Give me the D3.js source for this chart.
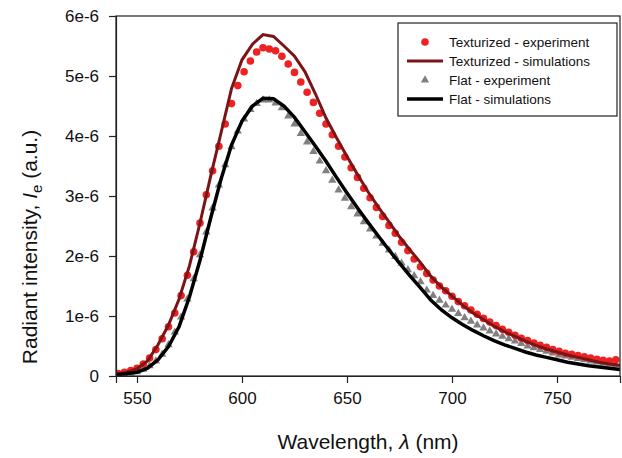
<!DOCTYPE html>
<html>
<head>
<meta charset="utf-8">
<script src="https://cdn.jsdelivr.net/npm/d3@7"></script>
<style>
  body { margin: 0; background: #fff; }
  text { font-family: "Liberation Sans", Arial, sans-serif; fill: #111; }
</style>
</head>
<body>
<div id="chart"></div>
<script>
// values in units of 1e-6 (a.u.)
var simWavelength = [540,545,550,555,560,565,570,575,580,585,590,595,600,605,610,615,620,625,630,635,640,645,650,655,660,665,670,675,680,685,690,695,700,705,710,715,720,725,730,735,740,745,750,755,760,765,770,775,780];
var texturizedSim = [0.03,0.06,0.12,0.25,0.52,0.85,1.28,1.84,2.55,3.32,4.05,4.79,5.27,5.53,5.69,5.66,5.50,5.33,5.07,4.70,4.30,3.97,3.66,3.36,3.07,2.81,2.57,2.32,2.10,1.89,1.66,1.48,1.33,1.18,1.05,0.94,0.83,0.74,0.66,0.58,0.51,0.45,0.40,0.35,0.31,0.27,0.23,0.20,0.18];
var flatSim = [0.02,0.04,0.06,0.13,0.27,0.49,0.82,1.32,1.93,2.62,3.28,3.85,4.25,4.50,4.63,4.62,4.50,4.31,4.07,3.83,3.58,3.31,3.05,2.80,2.56,2.33,2.10,1.88,1.67,1.47,1.26,1.10,0.97,0.86,0.76,0.67,0.59,0.52,0.46,0.40,0.35,0.31,0.27,0.23,0.20,0.17,0.15,0.13,0.11];

var expWavelength = [541,544,547,550,553,556,559,562,565,568,571,574,577,580,583,586,589,592,595,598,601,604,607,610,613,616,619,622,625,628,631,634,637,640,643,646,649,652,655,658,661,664,667,670,673,676,679,682,685,688,691,694,697,700,703,706,709,712,715,718,721,724,727,730,733,736,739,742,745,748,751,754,757,760,763,766,769,772,775,778];
var texturizedExp = [0.04,0.06,0.09,0.13,0.20,0.30,0.44,0.62,0.82,1.05,1.34,1.68,2.07,2.55,3.02,3.42,3.83,4.20,4.54,4.84,5.07,5.25,5.40,5.47,5.45,5.42,5.33,5.20,5.06,4.90,4.73,4.56,4.38,4.20,4.02,3.83,3.65,3.47,3.31,3.13,2.97,2.81,2.66,2.51,2.38,2.23,2.09,1.95,1.82,1.71,1.60,1.50,1.42,1.33,1.24,1.17,1.10,1.03,0.96,0.90,0.84,0.78,0.73,0.68,0.63,0.59,0.55,0.51,0.48,0.44,0.41,0.38,0.36,0.34,0.32,0.30,0.28,0.26,0.25,0.27];
var flatExp = [0.02,0.03,0.05,0.07,0.11,0.17,0.25,0.36,0.52,0.73,0.98,1.28,1.62,2.02,2.40,2.80,3.18,3.52,3.82,4.08,4.28,4.44,4.54,4.60,4.60,4.55,4.47,4.33,4.20,4.04,3.90,3.74,3.58,3.42,3.26,3.10,2.96,2.82,2.70,2.57,2.45,2.33,2.21,2.10,1.99,1.88,1.77,1.67,1.57,1.43,1.34,1.26,1.18,1.11,1.04,0.97,0.91,0.85,0.80,0.75,0.70,0.66,0.62,0.58,0.54,0.50,0.47,0.44,0.41,0.38,0.35,0.33,0.31,0.29,0.27,0.25,0.23,0.21,0.20,0.18];

var xTicks = [550,600,650,700,750];
var yTicks = [0,1,2,3,4,5,6];
var legendLabels = ["Texturized - experiment","Texturized - simulations","Flat - experiment","Flat - simulations"];

var width = 622, height = 458;
var margin = {top: 16, right: 2, bottom: 82, left: 116};
var w = width - margin.left - margin.right;
var h = height - margin.top - margin.bottom;

var redDot = "#ee2222", redLine = "#7a1416", grey = "#808080";

var svg = d3.select("#chart").append("svg")
  .attr("width", width)
  .attr("height", height);

var g = svg.append("g")
  .attr("transform", "translate(" + margin.left + "," + margin.top + ")");

var x = d3.scaleLinear().domain([540, 780]).range([0, w]);
var y = d3.scaleLinear().domain([0, 6]).range([h, 0]);

g.append("clipPath").attr("id", "clip")
  .append("rect").attr("width", w).attr("height", h + 1);

var plot = g.append("g").attr("clip-path", "url(#clip)");

var tri = d3.symbol().type(d3.symbolTriangle).size(30);

plot.selectAll(".tri")
  .data(expWavelength.map((d, i) => [d, flatExp[i]]))
  .enter().append("path")
  .attr("class", "tri")
  .attr("d", tri)
  .attr("transform", d => "translate(" + x(d[0]) + "," + y(d[1]) + ")")
  .attr("fill", grey);

plot.selectAll(".dot")
  .data(expWavelength.map((d, i) => [d, texturizedExp[i]]))
  .enter().append("circle")
  .attr("class", "dot")
  .attr("cx", d => x(d[0]))
  .attr("cy", d => y(d[1]))
  .attr("r", 3.8)
  .attr("fill", redDot);

var line = d3.line()
  .x(d => x(d[0]))
  .y(d => y(d[1]));

plot.append("path")
  .datum(simWavelength.map((d, i) => [d, texturizedSim[i]]))
  .attr("d", line)
  .attr("fill", "none")
  .attr("stroke", redLine)
  .attr("stroke-width", 3);

plot.append("path")
  .datum(simWavelength.map((d, i) => [d, flatSim[i]]))
  .attr("d", line)
  .attr("fill", "none")
  .attr("stroke", "#000")
  .attr("stroke-width", 3.5);

// frame
g.append("rect")
  .attr("width", w)
  .attr("height", h)
  .attr("fill", "none")
  .attr("stroke", "#222")
  .attr("stroke-width", 1.2);

var xAxis = g.append("g")
  .attr("transform", "translate(0," + h + ")")
  .call(d3.axisBottom(x).tickValues(xTicks).tickSize(7).tickPadding(9));

var yAxis = g.append("g")
  .call(d3.axisLeft(y).tickValues(yTicks).tickSize(7).tickPadding(10)
    .tickFormat(d => d === 0 ? "0" : d + "e-6"));

[xAxis, yAxis].forEach(function(a) {
  a.select(".domain").attr("stroke", "#222").attr("stroke-width", 1.2);
  a.selectAll(".tick line").attr("stroke", "#222").attr("stroke-width", 1.2);
  a.selectAll(".tick text").style("font-size", "17px").attr("fill", "#111");
});

// axis titles
svg.append("text")
  .attr("x", margin.left + w / 2)
  .attr("y", 449)
  .attr("text-anchor", "middle")
  .style("font-size", "21px")
  .html('Wavelength, <tspan font-style="italic">λ</tspan> (nm)');

svg.append("text")
  .attr("transform", "translate(37,247) rotate(-90)")
  .attr("text-anchor", "middle")
  .style("font-size", "21px")
  .html('Radiant intensity, <tspan font-style="italic">I</tspan><tspan font-size="15px" dy="5">e</tspan><tspan dy="-5"> (a.u.)</tspan>');

// legend
var lg = svg.append("g");
lg.append("rect")
  .attr("x", 398).attr("y", 23)
  .attr("width", 219).attr("height", 93)
  .attr("fill", "#fff")
  .attr("stroke", "#222")
  .attr("stroke-width", 1.2);

var rows = [42, 61, 80, 99];
lg.append("circle").attr("cx", 425).attr("cy", rows[0]).attr("r", 3.8).attr("fill", redDot);
lg.append("line").attr("x1", 407).attr("x2", 443).attr("y1", rows[1]).attr("y2", rows[1])
  .attr("stroke", redLine).attr("stroke-width", 3);
lg.append("path").attr("d", tri).attr("transform", "translate(425," + rows[2] + ")").attr("fill", grey);
lg.append("line").attr("x1", 407).attr("x2", 443).attr("y1", rows[3]).attr("y2", rows[3])
  .attr("stroke", "#000").attr("stroke-width", 3.5);

lg.selectAll(".lab")
  .data(legendLabels)
  .enter().append("text")
  .attr("x", 449)
  .attr("y", (d, i) => rows[i] + 5)
  .style("font-size", "13.5px")
  .text(d => d);
</script>
</body>
</html>
